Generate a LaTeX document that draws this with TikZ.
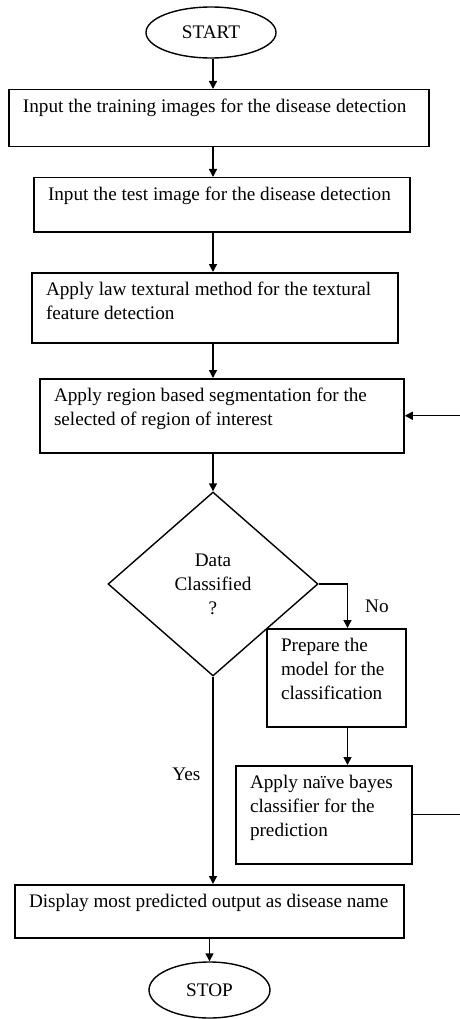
\documentclass[tikz,border=0pt]{standalone}
\usepackage{fontspec}
\setmainfont{Liberation Serif}
\usepackage{tikz}
\usetikzlibrary{shapes.geometric}
\usetikzlibrary{arrows.meta,arrows}

\tikzset{
  stepbox/.style={draw, line width=1.5pt, rectangle, anchor=north, align=flush left, inner xsep=14pt, inner ysep=0pt, text height=23pt},
  term/.style={draw, line width=1.4pt, ellipse, inner sep=0pt},
  decide/.style={draw, line width=1.4pt, diamond, inner sep=0pt, align=flush center, minimum width=210pt, minimum height=184pt},
  flow/.style={line width=1.4pt, -{Triangle[length=8pt,width=8pt]}},
  lbl/.style={inner sep=0pt}
}

\begin{document}
\begin{tikzpicture}[x=1pt, y=-1pt, font=\fontsize{19.2}{24}\selectfont]
\useasboundingbox (0,0) rectangle (460,1019);
\node[term, minimum width=130pt, minimum height=51pt] (start) at (211, 32.5) {START};
\node[stepbox, text width=392pt, text depth=34pt] (train) at (219, 89) {Input the training images for the disease detection};
\node[stepbox, text width=348pt, text depth=31pt] (test) at (222, 177) {Input the test image for the disease detection};
\node[stepbox, text width=338pt, text depth=47pt] (law) at (215, 272) {Apply law textural method for the textural\\feature detection};
\node[stepbox, text width=336pt, text depth=51pt] (region) at (222, 378) {Apply region based segmentation for the\\selected of region of interest};
\node[decide] (dia) at (213, 584) {Data\\Classified\\?};
\node[stepbox, text width=111pt, text depth=75pt] (prep) at (336.5, 628) {Prepare the\\model for the\\classification};
\node[stepbox, text width=148pt, text depth=75pt] (bayes) at (324, 765) {Apply naïve bayes\\classifier for the\\prediction};
\node[stepbox, text width=361pt, text depth=30pt] (disp) at (209.5, 884) {Display most predicted output as disease name};
\node[term, minimum width=121pt, minimum height=56pt] (stop) at (209.5, 990) {STOP};

% main column
\coordinate (axis) at (213,0);
\draw[flow] (start.south -| axis) -- (train.north -| axis);
\draw[flow] (train.south -| axis) -- (test.north -| axis);
\draw[flow] (test.south -| axis) -- (law.north -| axis);
\draw[flow] (law.south -| axis) -- (region.north -| axis);
\draw[flow] (region.south -| axis) -- (dia.north);

% decision branches
\draw[flow] (dia.east) -| ([xshift=11pt]prep.north) node[lbl, pos=.75, right=17pt] (no) {No};
\draw[flow] ([xshift=11pt]prep.south) -- ([xshift=11pt]prep.south |- bayes.north);
\draw[flow] (dia.south) -- (dia.south |- disp.north) node[lbl, pos=.47, left=12pt] (yes) {Yes};
\draw[flow] (disp.south -| stop) -- (stop.north);

% loop back
\coordinate (loop) at (461.5,0);
\draw[flow] (bayes.east) -- (bayes.east -| loop) -- (region.east -| loop) -- (region.east);
\end{tikzpicture}
\end{document}
